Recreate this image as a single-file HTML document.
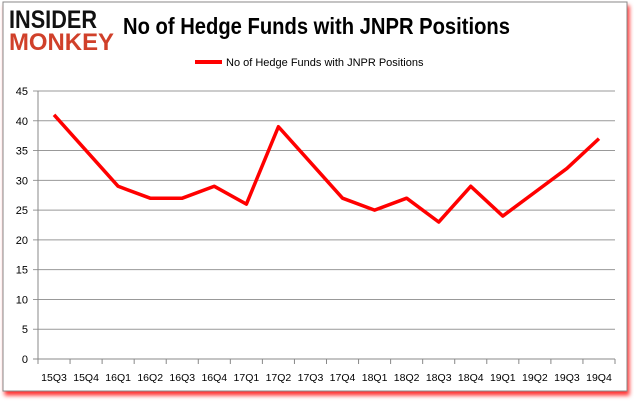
<!DOCTYPE html>
<html><head><meta charset="utf-8"><style>
body{margin:0;width:634px;height:404px;background:#fff;overflow:hidden;font-family:"Liberation Sans",sans-serif}
</style></head><body>
<svg width="634" height="404">
<defs><filter id="sh" x="-5%" y="-5%" width="110%" height="115%"><feDropShadow dx="2" dy="4" stdDeviation="2" flood-color="#ff0000" flood-opacity="0.8"/></filter></defs>
<rect x="3" y="2" width="624" height="389" fill="#fff" stroke="#888" stroke-width="1" filter="url(#sh)"/>
<g>
<text x="9" y="28" font-size="25" font-weight="bold" fill="#111" font-family="Liberation Sans" textLength="88" lengthAdjust="spacingAndGlyphs">INSIDER</text>
<text x="9" y="50" font-size="24" font-weight="bold" fill="#d0402a" font-family="Liberation Sans" textLength="105" lengthAdjust="spacingAndGlyphs">MONKEY</text>
</g>
<text x="123" y="34" font-size="23" font-weight="bold" fill="#000" textLength="387" lengthAdjust="spacingAndGlyphs">No of Hedge Funds with JNPR Positions</text>
<g>
<line x1="195" y1="62" x2="222" y2="62" stroke="#f00" stroke-width="4"/>
<text x="226" y="66" font-size="11" fill="#000">No of Hedge Funds with JNPR Positions</text>
</g>
<g id="grid"></g><g id="axes"></g><g id="series"></g>
</svg>
<script>
const categories=["15Q3","15Q4","16Q1","16Q2","16Q3","16Q4","17Q1","17Q2","17Q3","17Q4","18Q1","18Q2","18Q3","18Q4","19Q1","19Q2","19Q3","19Q4"];
const values=[41,35,29,27,27,29,26,39,33,27,25,27,23,29,24,28,32,37];
const yTicks=[0,5,10,15,20,25,30,35,40,45];
const NS="http://www.w3.org/2000/svg";
const L=38,R=615,T=91,B=359,maxY=45;
const step=(R-L)/categories.length;
const x=i=>L+step*(i+0.5);
const y=v=>B-(v/maxY)*(B-T);
function mk(tag,attrs,parent){const e=document.createElementNS(NS,tag);for(const k in attrs)e.setAttribute(k,attrs[k]);document.getElementById(parent).appendChild(e);return e;}
yTicks.forEach(t=>{
 const g=mk('line',{x1:L-5,x2:R,y1:y(t),y2:y(t),stroke:t===0?'#888':'#999','stroke-width':1},'grid');
 
 
 const tx=mk('text',{x:L-10,y:y(t)+4,'text-anchor':'end','font-size':11,fill:'#000'},'axes');
 tx.textContent=t;
 
 
});
const ya=mk('line',{x1:L,x2:L,y1:T,y2:B+5,stroke:'#888'},'axes');


categories.forEach((c,i)=>{
 const tk=mk('line',{x1:L+step*i,x2:L+step*i,y1:B,y2:B+5,stroke:'#888'},'axes');
 
 
 const tx=mk('text',{x:x(i),y:B+22,'text-anchor':'middle','font-size':10.5,fill:'#000'},'axes');
 tx.textContent=c;
 
 
});
const endTk=mk('line',{x1:R,x2:R,y1:B,y2:B+5,stroke:'#888'},'axes');


const pl=mk('polyline',{points:values.map((v,i)=>x(i)+','+y(v)).join(' '),fill:'none',stroke:'#f00','stroke-width':3.5,'stroke-linejoin':'round'},'series');


</script>
</body></html>
